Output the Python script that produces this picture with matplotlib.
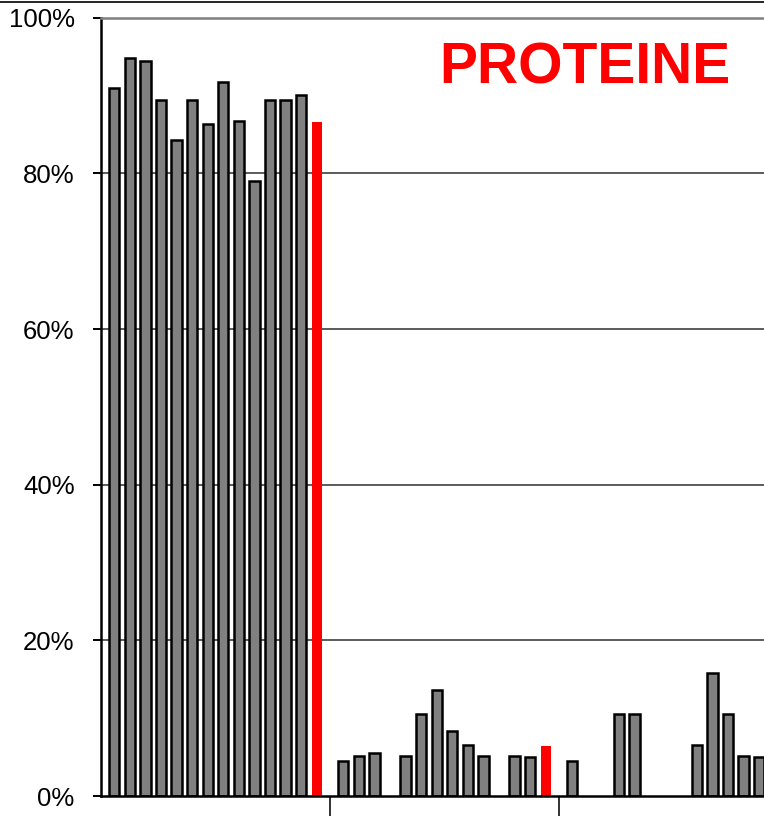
import matplotlib
matplotlib.use("Agg")
import matplotlib.pyplot as plt
from matplotlib.lines import Line2D
import numpy as np

plt.rcParams['font.family'] = ['Liberation Sans', 'DejaVu Sans']

# --- data (percent) ---
group1 = [91.0, 94.8, 94.4, 89.4, 84.3, 89.4, 86.3, 91.7, 86.7, 79.0, 89.4, 89.4, 90.1]
group2 = [4.5, 5.2, 5.5, 0.0, 5.2, 10.5, 13.6, 8.3, 6.6, 5.2, 0.0, 5.2, 5.0]
group3 = [4.5, 0.0, 0.0, 10.5, 10.5, 0.0, 0.0, 0.0, 6.6, 15.8, 10.5, 5.2, 5.0]
red_values = [86.6, 6.4, 6.0]
y_ticks = [0, 20, 40, 60, 80, 100]
y_labels = ["0%", "20%", "40%", "60%", "80%", "100%"]
title = "PROTEINE"

groups = [group1, group2, group3]
n_slots = 14
group_w = 14.7
edge = (group_w - n_slots) / 2
bar_w = 0.66

W, H = 764, 816
fig = plt.figure(figsize=(W / 100, H / 100), dpi=100)
left = 101 / W
bottom = 20 / H
top = (H - 17.7) / H
right = 788 / W
ax = fig.add_axes([left, bottom, right - left, top - bottom])

for g, vals in enumerate(groups):
    base = g * group_w + edge + 0.5
    vals = np.asarray(vals)
    xs = base + np.arange(len(vals))
    nz = vals > 0
    ax.bar(xs[nz], vals[nz], width=bar_w, color="#808080", edgecolor="black",
           linewidth=1.8, zorder=3)
    ax.bar(base + len(vals), red_values[g], width=bar_w, color="#ff0000",
           edgecolor="none", zorder=3)

ax.set_xlim(0, group_w * 3)
ax.set_ylim(0, 100)

ax.set_yticks(y_ticks)
ax.set_yticklabels(y_labels, fontsize=18.5)
ax.tick_params(axis='y', direction='out', length=6, width=1.4, pad=13, color='black')
ax.set_xticks([group_w, 2 * group_w])
ax.set_xticklabels([])
ax.tick_params(axis='x', direction='out', length=20, width=1.3, color='#222222')

for yv in [20, 40, 60, 80]:
    ax.axhline(yv, color="#404040", linewidth=1.2, zorder=1)

ax.spines['left'].set_linewidth(1.8)
ax.spines['left'].set_color('black')
ax.spines['bottom'].set_linewidth(1.8)
ax.spines['bottom'].set_color('black')
ax.spines['bottom'].set_zorder(4)
ax.spines['top'].set_color('#808080')
ax.spines['top'].set_linewidth(1.8)
ax.spines['right'].set_visible(False)

fig.text(585 / W, 1 - 68 / H, title, color="#ff0000", fontsize=41,
         fontweight='bold', ha='center', va='center')

fig.add_artist(Line2D([0, 1], [1 - 1.7 / H, 1 - 1.7 / H], color='black',
                      linewidth=1.2, transform=fig.transFigure))

fig.savefig("out.png", dpi=100)
